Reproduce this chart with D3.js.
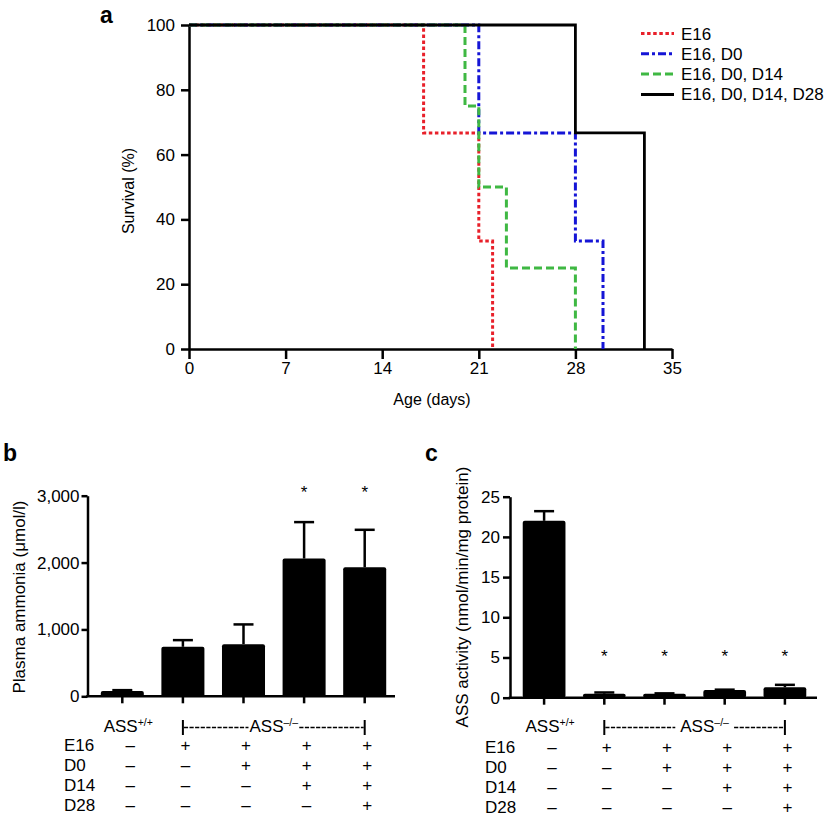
<!DOCTYPE html>
<html><head><meta charset="utf-8">
<script src="https://cdn.jsdelivr.net/npm/d3@7"></script>
<style>
body{margin:0;background:#fff}
svg{display:block}
text{font-family:"Liberation Sans",Arial,Helvetica,sans-serif;fill:#000}
</style>
</head><body>
<svg id="chart" width="830" height="817"></svg>
<script>
// ---------- DATA ----------
// Panel a: Kaplan-Meier survival
const kmGroups = ["E16", "E16, D0", "E16, D0, D14", "E16, D0, D14, D28"];
const kmTimes = [[0, 17, 21, 22], [0, 21, 28, 30], [0, 20, 21, 23, 28], [0, 28, 33]];
const kmSurv  = [[100, 66.7, 33.3, 0], [100, 66.7, 33.3, 0], [100, 75, 50, 25, 0], [100, 66.7, 0]];
const kmXTicks = [0, 7, 14, 21, 28, 35];
const kmYTicks = [0, 20, 40, 60, 80, 100];

// Panels b and c: bar groups
const barGroups = ["WT", "E16", "E16+D0", "E16+D0+D14", "E16+D0+D14+D28"];
const ammoniaMean = [80, 740, 780, 2060, 1930];
const ammoniaErr  = [12, 100, 295, 545, 560];
const ammoniaSig  = [false, false, false, true, true];
const ammoniaTicks = [0, 1000, 2000, 3000];

const activityMean = [22, 0.5, 0.5, 0.95, 1.3];
const activityErr  = [1.2, 0.15, 0.04, 0.05, 0.3];
const activitySig  = [false, true, true, true, true];
const activityTicks = [0, 5, 10, 15, 20, 25];

const treatRows = ["E16", "D0", "D14", "D28"];
const treatMatrix = [
  [0, 1, 1, 1, 1],
  [0, 0, 1, 1, 1],
  [0, 0, 0, 1, 1],
  [0, 0, 0, 0, 1]
];

// ---------- STYLE ----------
const FONT = 17;
const svg = d3.select("#chart");
const kmStyles = [
  {color: "#e8202a", dash: "3.5,2.6"},
  {color: "#1515d6", dash: "8,3,3,3"},
  {color: "#3fb843", dash: "8,4"},
  {color: "#000000", dash: null}
];

function styleAxis(g, fs) {
  g.selectAll("path.domain").attr("stroke", "#000").attr("stroke-width", 2.5);
  g.selectAll(".tick line").attr("stroke", "#000").attr("stroke-width", 2.5);
  g.selectAll(".tick text").attr("font-size", fs).attr("font-family", '"Liberation Sans",Arial,Helvetica,sans-serif').attr("fill", "#000");
}

// ---------- PANEL A ----------
(function () {
  const x = d3.scaleLinear().domain([0, 35]).range([189, 672]);
  const y = d3.scaleLinear().domain([0, 100]).range([349, 25]);

  const gy = svg.append("g").attr("transform", `translate(${x(0)},0)`)
    .call(d3.axisLeft(y).tickValues(kmYTicks).tickSize(8).tickPadding(6).tickSizeOuter(0));
  styleAxis(gy, 17);
  const gx = svg.append("g").attr("transform", `translate(0,${y(0)})`)
    .call(d3.axisBottom(x).tickValues(kmXTicks).tickSize(10).tickPadding(3).tickSizeOuter(0));
  styleAxis(gx, 17);

  const line = d3.line().x(d => x(d[0])).y(d => y(d[1])).curve(d3.curveStepAfter);
  kmGroups.forEach((name, i) => {
    const pts = kmTimes[i].map((t, j) => [t, kmSurv[i][j]]);
    svg.append("path").datum(pts)
      .attr("d", line)
      .attr("fill", "none")
      .attr("stroke", kmStyles[i].color)
      .attr("stroke-width", i === 3 ? 2.8 : 3)
      .attr("stroke-dasharray", kmStyles[i].dash);
  });

  // legend
  const lg = svg.append("g");
  kmGroups.forEach((name, i) => {
    const yy = 33.5 + i * 20.3;
    lg.append("line").attr("x1", 641).attr("x2", 674).attr("y1", yy).attr("y2", yy)
      .attr("stroke", kmStyles[i].color).attr("stroke-width", 3)
      .attr("stroke-dasharray", kmStyles[i].dash);
    lg.append("text").attr("x", 681).attr("y", yy + 6).attr("font-size", FONT).text(name);
  });

  svg.append("text").attr("transform", `translate(134,${y(50) + 4}) rotate(-90)`)
    .attr("text-anchor", "middle").attr("font-size", 16).text("Survival (%)");
  svg.append("text").attr("x", 432).attr("y", 405).attr("text-anchor", "middle")
    .attr("font-size", 16).text("Age (days)");
  svg.append("text").attr("x", 100).attr("y", 23).attr("font-size", 23)
    .attr("font-weight", "bold").text("a");
})();

// ---------- BAR PANELS ----------
function barPanel(cfg) {
  const x = d3.scaleBand().domain(barGroups).range(cfg.xRange).paddingInner(0.29).paddingOuter(0.145);
  const y = d3.scaleLinear().domain(cfg.yDomain).range(cfg.yRange);
  const cx = d => x(d) + x.bandwidth() / 2;

  const gy = svg.append("g").attr("transform", `translate(${cfg.axisX},0)`)
    .call(d3.axisLeft(y).tickValues(cfg.ticks).tickSize(cfg.tickSize).tickPadding(cfg.tickPad)
      .tickSizeOuter(0).tickFormat(cfg.fmt));
  styleAxis(gy, FONT);

  // x baseline + ticks
  svg.append("line").attr("x1", cfg.axisX - 1.25).attr("x2", cfg.xEnd)
    .attr("y1", y(0)).attr("y2", y(0)).attr("stroke", "#000").attr("stroke-width", 2.5);
  svg.selectAll(null).data(barGroups).enter().append("line")
    .attr("x1", cx).attr("x2", cx).attr("y1", y(0)).attr("y2", y(0) + 7)
    .attr("stroke", "#000").attr("stroke-width", 2.5);

  // bars
  svg.selectAll(null).data(barGroups).enter().append("rect")
    .attr("x", d => x(d)).attr("width", x.bandwidth())
    .attr("y", (d, i) => y(cfg.mean[i]))
    .attr("height", (d, i) => y(0) - y(cfg.mean[i]))
    .attr("rx", 2).attr("fill", "#000");

  // error bars
  barGroups.forEach((g, i) => {
    const top = y(cfg.mean[i] + cfg.err[i]);
    svg.append("line").attr("x1", cx(g)).attr("x2", cx(g))
      .attr("y1", y(cfg.mean[i])).attr("y2", top)
      .attr("stroke", "#000").attr("stroke-width", 2.5);
    svg.append("line").attr("x1", cx(g) - 10).attr("x2", cx(g) + 10)
      .attr("y1", top).attr("y2", top)
      .attr("stroke", "#000").attr("stroke-width", 2.5);
    if (cfg.sig[i]) {
      svg.append("text").attr("x", cx(g)).attr("y", y(cfg.starLevel) + 9)
        .attr("text-anchor", "middle").attr("font-size", FONT).text("*");
    }
  });

  // y label
  svg.append("text").attr("transform", `translate(${cfg.labelX},597) rotate(-90)`)
    .attr("text-anchor", "middle").attr("font-size", FONT).text(cfg.yLabel);
  // panel letter
  svg.append("text").attr("x", cfg.letterX).attr("y", 461).attr("font-size", 23)
    .attr("font-weight", "bold").text(cfg.letter);

  // genotype labels
  const wt = svg.append("text").attr("x", cx(barGroups[0]) + 6).attr("y", 732)
    .attr("text-anchor", "middle").attr("font-size", FONT);
  wt.append("tspan").text("ASS");
  wt.append("tspan").attr("font-size", 10.5).attr("dy", -6).text("+/+");

  const bx1 = cx(barGroups[1]), bx2 = cx(barGroups[4]);
  svg.append("line").attr("x1", bx1).attr("x2", bx1).attr("y1", 720).attr("y2", 735)
    .attr("stroke", "#000").attr("stroke-width", 2);
  svg.append("line").attr("x1", bx2).attr("x2", bx2).attr("y1", 720).attr("y2", 735)
    .attr("stroke", "#000").attr("stroke-width", 2);
  const ko = svg.append("text").attr("x", (bx1 + bx2) / 2 + cfg.koShift).attr("y", 732)
    .attr("text-anchor", "middle").attr("font-size", FONT);
  ko.append("tspan").text("ASS");
  ko.append("tspan").attr("font-size", 10.5).attr("dy", -6).text("\u2013/\u2013");
  const bb = ko.node().getBBox();
  svg.append("line").attr("x1", bx1 + 1).attr("x2", bb.x - cfg.koGap)
    .attr("y1", 727.5).attr("y2", 727.5).attr("stroke", "#000").attr("stroke-width", 1.5)
    .attr("stroke-dasharray", "4.2,1.4");
  svg.append("line").attr("x1", bb.x + bb.width + cfg.koGap).attr("x2", bx2 - 1)
    .attr("y1", 727.5).attr("y2", 727.5).attr("stroke", "#000").attr("stroke-width", 1.5)
    .attr("stroke-dasharray", "4.2,1.4");

  // treatment table
  const colOff = [8, 2.5, 2.5, 2.5, 2.5];
  treatRows.forEach((r, ri) => {
    const yy = cfg.rowBase + ri * 20;
    svg.append("text").attr("x", cfg.rowLabelX).attr("y", yy).attr("font-size", FONT).text(r);
    barGroups.forEach((g, gi) => {
      svg.append("text").attr("x", cx(g) + colOff[gi]).attr("y", yy)
        .attr("text-anchor", "middle").attr("font-size", FONT).attr("fill", "#222")
        .text(treatMatrix[ri][gi] ? "+" : "\u2013");
    });
  });
}

barPanel({
  letter: "b", letterX: 3,
  xRange: [92, 395], xEnd: 395, axisX: 87.5,
  yDomain: [0, 3000], yRange: [696.3, 495.7],
  ticks: ammoniaTicks, tickSize: 6, tickPad: 2, fmt: d3.format(","),
  mean: ammoniaMean, err: ammoniaErr, sig: ammoniaSig, starLevel: 3100,
  yLabel: "Plasma ammonia (\u03bcmol/l)", labelX: 25,
  koShift: 0, koGap: 1, rowLabelX: 64, rowBase: 751
});

barPanel({
  letter: "c", letterX: 425,
  xRange: [514, 815], xEnd: 817, axisX: 510,
  yDomain: [0, 25], yRange: [697.7, 496.7],
  ticks: activityTicks, tickSize: 7, tickPad: 3, fmt: d3.format("d"),
  mean: activityMean, err: activityErr, sig: activitySig, starLevel: 5.5,
  yLabel: "ASS activity (nmol/min/mg protein)", labelX: 468,
  koShift: 10, koGap: 5, rowLabelX: 485, rowBase: 752.5
});
</script>
</body></html>
